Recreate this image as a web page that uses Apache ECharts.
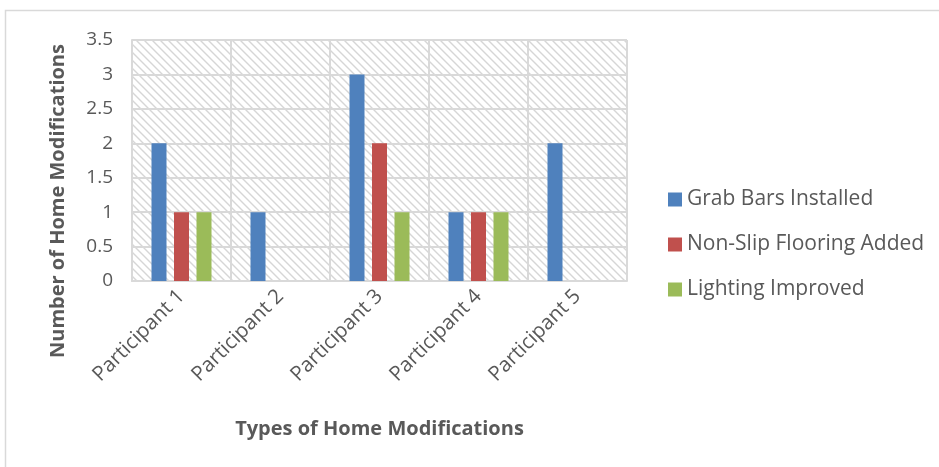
<!DOCTYPE html>
<html>
<head>
<meta charset="utf-8">
<script src="https://cdn.jsdelivr.net/npm/echarts@6/dist/echarts.min.js"></script>
<style>
  html, body { margin: 0; padding: 0; background: #fff; }
  #chart { width: 939px; height: 467px; }
</style>
</head>
<body>
<div id="chart"></div>
<script>
// Participants and counts of each home modification
const categories = ['Participant 1', 'Participant 2', 'Participant 3', 'Participant 4', 'Participant 5'];
const grabBars = [2, 1, 3, 1, 2];
const nonSlipFlooring = [1, 0, 2, 1, 0];
const lightingImproved = [1, 0, 1, 1, 0];
const seriesNames = ['Grab Bars Installed', 'Non-Slip Flooring Added', 'Lighting Improved'];
const yTitle = 'Number of Home Modifications';
const xTitle = 'Types of Home Modifications';

const FONT = '"Open Sans", "Noto Sans", sans-serif';
const TEXT = '#595959';
const GRID_LINE = '#d9d9d9';

// Diagonal hatch tile for the plot background
function hatchTile() {
  const s = 8;
  const c = document.createElement('canvas');
  c.width = s; c.height = s;
  const ctx = c.getContext('2d');
  ctx.fillStyle = '#ffffff';
  ctx.fillRect(0, 0, s, s);
  ctx.strokeStyle = '#d6d6d6';
  ctx.lineWidth = 1.4;
  ctx.beginPath();
  ctx.moveTo(-1, -1); ctx.lineTo(s + 1, s + 1);
  ctx.moveTo(-1, s - 1); ctx.lineTo(1, s + 1);
  ctx.moveTo(s - 1, -1); ctx.lineTo(s + 1, 1);
  ctx.stroke();
  return c;
}

const chart = echarts.init(document.getElementById('chart'), null, { renderer: 'canvas' });

function barSeries(name, data, color) {
  return {
    name: name,
    type: 'bar',
    data: data,
    barWidth: 15,
    barGap: '50%',
    itemStyle: { color: color }
  };
}

chart.setOption({
  backgroundColor: '#ffffff',
  animation: false,
  graphic: [
    {
      // outer chart frame
      type: 'rect',
      shape: { x: 5.5, y: 10.5, width: 1000, height: 1000 },
      style: { fill: 'none', stroke: GRID_LINE, lineWidth: 1.5 },
      z: -1
    },
    {
      // vertical axis title, centred on the plot and label block
      type: 'text',
      x: 58,
      y: 201,
      rotation: Math.PI / 2,
      style: {
        text: yTitle,
        fontFamily: FONT,
        fontSize: 20,
        fontWeight: 'bold',
        fill: TEXT,
        align: 'center',
        verticalAlign: 'middle'
      }
    }
  ],
  grid: {
    left: 132, right: 312, top: 40, bottom: 186,
    show: true,
    backgroundColor: { image: hatchTile(), repeat: 'repeat' },
    borderWidth: 0
  },
  legend: {
    orient: 'vertical',
    left: 663,
    top: 184,
    itemWidth: 14,
    itemHeight: 14,
    itemGap: 24,
    icon: 'rect',
    textStyle: { fontFamily: FONT, fontSize: 21, color: TEXT },
    data: seriesNames
  },
  xAxis: {
    type: 'category',
    data: categories,
    name: xTitle,
    nameLocation: 'middle',
    nameGap: 138,
    nameTextStyle: { fontFamily: FONT, fontSize: 20, fontWeight: 'bold', color: TEXT },
    axisLine: { show: true, lineStyle: { color: GRID_LINE, width: 2 } },
    axisTick: { show: false },
    axisLabel: { rotate: 45, fontFamily: FONT, fontSize: 20.5, color: TEXT, margin: 12 },
    splitLine: { show: true, lineStyle: { color: GRID_LINE, width: 2 } }
  },
  yAxis: {
    type: 'value',
    min: 0, max: 3.5, interval: 0.5,
    axisLine: { show: true, lineStyle: { color: GRID_LINE, width: 2 } },
    axisTick: { show: false },
    axisLabel: { fontFamily: FONT, fontSize: 19, color: TEXT, margin: 19 },
    splitLine: { show: true, lineStyle: { color: GRID_LINE, width: 2 } }
  },
  series: [
    barSeries(seriesNames[0], grabBars, '#4f81bd'),
    barSeries(seriesNames[1], nonSlipFlooring, '#c0504d'),
    barSeries(seriesNames[2], lightingImproved, '#9bbb59')
  ]
});
</script>
</body>
</html>
